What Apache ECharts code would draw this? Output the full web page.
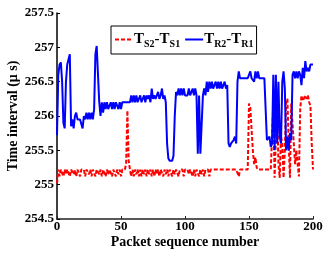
<!DOCTYPE html>
<html><head><meta charset="utf-8">
<script src="https://cdn.jsdelivr.net/npm/echarts@6/dist/echarts.min.js"></script>
<style>html,body{margin:0;padding:0;background:#fff}#c{width:332px;height:257px}</style>
</head><body><div id="c"></div>
<script>
var packets = [];
for (var i = 0; i <= 200; i++) packets.push(i);
var sendInterval = [
255.02,255.22,255.12,255.22,255.22,255.12,255.22,255.15,255.22,255.22,
255.12,255.22,255.22,255.15,255.22,255.12,255.22,255.22,255.12,255.22,
255.22,255.22,255.12,255.22,255.22,255.15,255.22,255.12,255.22,255.22,
255.12,255.22,255.22,255.15,255.22,255.12,255.22,255.22,255.12,255.22,
255.15,255.22,255.22,255.12,255.22,255.22,255.12,255.22,255.15,255.22,
255.12,255.22,255.22,255.22,255.30,256.08,255.35,255.22,255.12,255.22,
255.12,255.22,255.15,255.22,255.12,255.22,255.12,255.22,255.15,255.22,
255.12,255.22,255.15,255.22,255.12,255.22,255.12,255.22,255.15,255.22,
255.12,255.22,255.22,255.12,255.22,255.15,255.22,255.12,255.22,255.22,
255.12,255.22,255.15,255.22,255.22,255.12,255.22,255.22,255.22,255.12,
255.22,255.22,255.22,255.15,255.22,255.22,255.12,255.22,255.12,255.22,
255.22,255.12,255.22,255.15,255.22,255.12,255.22,255.22,255.22,255.12,
255.22,255.22,255.22,255.22,255.22,255.22,255.22,255.22,255.22,255.22,
255.22,255.22,255.22,255.22,255.22,255.22,255.22,255.22,255.22,255.22,
255.22,255.22,255.12,255.22,255.22,255.22,255.22,255.22,255.22,255.22,
256.18,256.12,256.10,255.50,255.30,255.40,255.25,255.22,255.22,255.22,
255.22,255.22,255.22,255.22,255.22,255.22,255.22,255.22,255.22,256.18,
255.10,255.70,256.18,255.30,255.10,255.70,255.60,255.10,255.50,256.20,
256.25,255.60,255.10,256.18,256.20,255.60,255.30,255.50,255.30,255.12,
256.10,256.30,256.22,256.20,256.30,256.25,256.30,256.20,256.15,255.60,
255.22
];
var recvInterval = [
255.72,256.60,256.75,256.78,256.50,255.90,255.82,256.50,256.75,256.75,
256.90,255.85,255.95,255.82,256.00,256.05,255.95,255.95,255.95,255.95,
255.82,256.00,255.95,256.05,255.95,256.05,255.95,256.05,255.95,256.10,
256.90,257.02,257.02,256.20,256.00,256.20,256.05,256.20,256.10,256.20,
256.10,256.10,256.20,256.10,256.20,256.10,256.20,256.20,256.10,256.20,
256.10,256.20,256.20,256.20,256.20,256.20,256.20,256.20,256.30,256.20,
256.30,256.20,256.30,256.20,256.20,256.30,256.20,256.20,256.30,256.20,
256.30,256.25,256.30,256.20,256.40,256.25,256.30,256.25,256.30,256.35,
256.25,256.30,256.40,256.25,256.30,256.20,255.60,255.38,255.35,255.35,
255.35,255.42,256.00,256.35,256.30,256.40,256.30,256.40,256.30,256.40,
256.30,256.30,256.30,256.40,256.30,256.30,256.40,256.30,256.40,256.30,
255.45,256.30,255.45,255.45,256.30,256.40,256.30,256.50,256.35,256.50,
256.40,256.50,256.40,256.40,256.50,256.40,256.50,256.40,256.50,256.40,
256.40,256.50,256.40,256.45,255.60,255.55,255.60,255.60,255.65,255.70,
255.60,256.50,256.65,256.55,256.55,256.55,256.55,256.55,256.55,256.55,
256.55,256.65,256.55,256.55,256.50,256.65,256.55,256.65,256.55,256.55,
256.55,256.55,256.55,256.55,255.65,255.65,255.70,255.55,255.60,256.60,
255.50,256.60,255.60,256.50,255.70,255.60,256.50,256.65,256.40,255.50,
255.70,255.50,255.75,255.65,256.60,256.65,256.55,256.65,256.55,256.65,
256.60,256.45,256.70,256.55,256.80,256.65,256.70,256.65,256.75,256.75,
256.75
];
var xTicks = {min: 0, max: 200, interval: 50};
var yTicks = {min: 254.5, max: 257.5, interval: 0.5};
var seriesNames = ['S', 'R'];

function pairs(vals) { return vals.map(function (v, i) { return [packets[i], v]; }); }
var font = '"Liberation Serif", "Times New Roman", serif';
var chart = echarts.init(document.getElementById('c'), null, {renderer: 'canvas'});
chart.setOption({
  animation: false,
  backgroundColor: '#fff',
  textStyle: {fontFamily: font},
  grid: {left: 57, right: 19, top: 13, bottom: 38, containLabel: false, outerBoundsMode: 'none'},
  legend: {
    left: 111, top: 26, width: 144,
    itemWidth: 18, itemHeight: 10, itemGap: 4,
    padding: [4, 3, 5, 3],
    borderColor: '#000', borderWidth: 1, backgroundColor: '#fff',
    itemStyle: {opacity: 0},
    data: seriesNames,
    formatter: function (n) {
      return '{m|T}{s|' + n + '2}{m|-T}{s|' + n + '1}';
    },
    textStyle: {
      fontFamily: font, fontWeight: 'bold', color: '#000', padding: [0, 0, 0, -4],
      rich: {
        m: {fontFamily: font, fontWeight: 'bold', fontSize: 15, color: '#000', lineHeight: 18, verticalAlign: 'middle'},
        s: {fontFamily: font, fontWeight: 'bold', fontSize: 10, color: '#000', lineHeight: 18, padding: [9, 0, 0, 0], verticalAlign: 'middle'}
      }
    }
  },
  xAxis: {
    type: 'value', min: xTicks.min, max: xTicks.max, interval: xTicks.interval,
    name: 'Packet sequence number', nameLocation: 'middle', nameGap: 16, nameMoveOverlap: false,
    nameTextStyle: {fontFamily: font, fontWeight: 'bold', fontSize: 14, color: '#000'},
    axisLine: {lineStyle: {color: '#222', width: 1.5}},
    axisTick: {inside: true, length: 3, lineStyle: {color: '#222'}},
    axisLabel: {fontFamily: font, fontWeight: 'bold', fontSize: 13, color: '#000', margin: 1},
    splitLine: {show: false}
  },
  yAxis: {
    type: 'value', min: yTicks.min, max: yTicks.max, interval: yTicks.interval,
    name: 'Time interval (\u03bc s)', nameLocation: 'middle', nameGap: 37, nameMoveOverlap: false,
    nameTextStyle: {fontFamily: font, fontWeight: 'bold', fontSize: 14, color: '#000'},
    axisLine: {show: true, lineStyle: {color: '#000', width: 1.5}},
    axisTick: {show: true, inside: true, length: 3, lineStyle: {color: '#000'}},
    axisLabel: {fontFamily: font, fontWeight: 'bold', fontSize: 13, color: '#000', margin: 3},
    splitLine: {show: false}
  },
  series: [
    {name: 'S', type: 'line', data: pairs(sendInterval), symbol: 'none', z: 2,
     lineStyle: {color: '#ff0000', width: 2, type: [4, 2]}, itemStyle: {color: '#ff0000'}},
    {name: 'R', type: 'line', data: pairs(recvInterval), symbol: 'none', z: 3,
     lineStyle: {color: '#0000ff', width: 2}, itemStyle: {color: '#0000ff'}}
  ]
});
</script></body></html>
